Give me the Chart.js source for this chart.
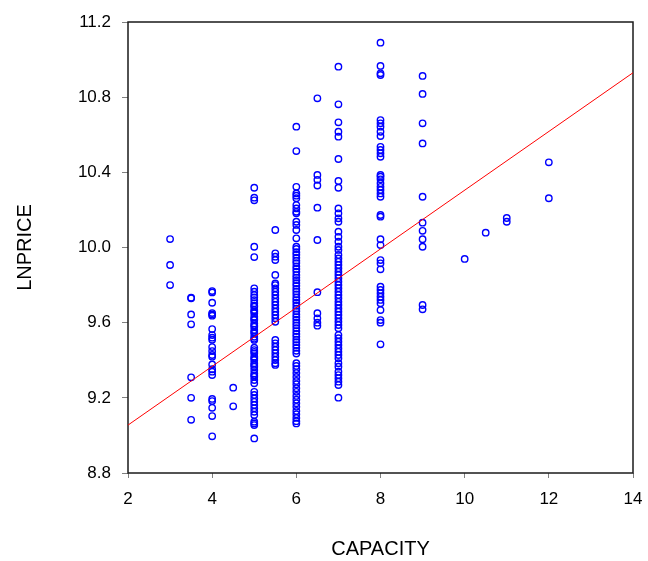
<!DOCTYPE html>
<html>
<head>
<meta charset="utf-8">
<script src="https://cdn.jsdelivr.net/npm/chart.js@4/dist/chart.umd.min.js"></script>
<style>
  html, body { margin: 0; padding: 0; background: #ffffff; }
  #wrap { width: 648px; height: 561px; }
</style>
</head>
<body>
<div id="wrap"><canvas id="c" width="648" height="561"></canvas></div>
<script>
// ---- Data (x = CAPACITY, y = LNPRICE) ----
const capacities = [3, 3.5, 4, 4.5, 5, 5.5, 6, 6.5, 7, 8, 9, 10, 10.5, 11, 12];

const lnprice_cap3   = [10.045, 9.907, 9.80];
const lnprice_cap3_5 = [9.733, 9.73, 9.644, 9.591, 9.309, 9.20, 9.083];
const lnprice_cap4   = [9.768, 9.761, 9.706, 9.651, 9.644, 9.637, 9.566, 9.534, 9.52, 9.509, 9.47, 9.449, 9.428, 9.419, 9.378, 9.352, 9.339, 9.321, 9.194, 9.183, 9.147, 9.103, 8.995];
const lnprice_cap4_5 = [9.254, 9.155];
const lnprice_cap5   = [10.318, 10.265, 10.251, 10.004, 9.949, 9.783, 9.765, 9.747, 9.735, 9.72, 9.703, 9.69, 9.685, 9.667, 9.66, 9.65, 9.632, 9.62, 9.614, 9.596, 9.585, 9.578, 9.561, 9.55, 9.543, 9.525, 9.515, 9.508, 9.467, 9.454, 9.445, 9.437, 9.419, 9.41, 9.401, 9.384, 9.375, 9.366, 9.348, 9.33, 9.32, 9.312, 9.295, 9.277, 9.232, 9.215, 9.197, 9.179, 9.162, 9.144, 9.126, 9.108, 9.073, 9.064, 9.055, 8.984];
const lnprice_cap5_5 = [10.093, 9.969, 9.951, 9.933, 9.854, 9.809, 9.80, 9.783, 9.765, 9.747, 9.729, 9.711, 9.694, 9.676, 9.658, 9.641, 9.623, 9.605, 9.508, 9.49, 9.472, 9.454, 9.437, 9.419, 9.401, 9.384, 9.375];
const lnprice_cap6   = [10.643, 10.513, 10.323, 10.288, 10.276, 10.262, 10.226, 10.208, 10.19, 10.182, 10.137, 10.12, 10.093, 10.049, 10.004, 9.992, 9.975, 9.962, 9.946, 9.93, 9.917, 9.90, 9.886, 9.871, 9.853, 9.84, 9.826, 9.81, 9.796, 9.78, 9.766, 9.751, 9.734, 9.72, 9.706, 9.69, 9.675, 9.661, 9.644, 9.63, 9.616, 9.60, 9.586, 9.571, 9.555, 9.54, 9.526, 9.51, 9.496, 9.481, 9.466, 9.45, 9.436, 9.384, 9.37, 9.352, 9.332, 9.311, 9.29, 9.272, 9.251, 9.232, 9.21, 9.19, 9.171, 9.152, 9.13, 9.112, 9.093, 9.076, 9.064];
const lnprice_cap6_5 = [10.794, 10.386, 10.36, 10.33, 10.212, 10.04, 9.762, 9.65, 9.623, 9.60, 9.584];
const lnprice_cap7   = [10.962, 10.762, 10.666, 10.616, 10.59, 10.471, 10.354, 10.318, 10.208, 10.182, 10.155, 10.137, 10.084, 10.057, 10.031, 10.004, 9.987, 9.96, 9.942, 9.924, 9.907, 9.889, 9.871, 9.854, 9.836, 9.818, 9.80, 9.783, 9.765, 9.747, 9.73, 9.711, 9.694, 9.676, 9.658, 9.641, 9.623, 9.605, 9.587, 9.57, 9.534, 9.517, 9.499, 9.481, 9.463, 9.445, 9.428, 9.41, 9.384, 9.366, 9.339, 9.321, 9.304, 9.286, 9.268, 9.201];
const lnprice_cap8   = [11.09, 10.966, 10.927, 10.918, 10.678, 10.661, 10.643, 10.616, 10.593, 10.536, 10.519, 10.501, 10.483, 10.386, 10.377, 10.363, 10.342, 10.323, 10.306, 10.288, 10.27, 10.173, 10.164, 10.044, 10.013, 9.933, 9.916, 9.884, 9.791, 9.774, 9.756, 9.738, 9.721, 9.703, 9.667, 9.614, 9.60, 9.485];
const lnprice_cap9   = [10.913, 10.817, 10.661, 10.554, 10.27, 10.132, 10.089, 10.044, 10.004, 9.694, 9.671];
const lnprice_cap10  = [9.939];
const lnprice_cap10_5 = [10.079];
const lnprice_cap11  = [10.157, 10.137];
const lnprice_cap12  = [10.453, 10.262];

const lnpriceByCapacity = [lnprice_cap3, lnprice_cap3_5, lnprice_cap4, lnprice_cap4_5, lnprice_cap5, lnprice_cap5_5, lnprice_cap6, lnprice_cap6_5, lnprice_cap7, lnprice_cap8, lnprice_cap9, lnprice_cap10, lnprice_cap10_5, lnprice_cap11, lnprice_cap12];

// Fitted regression line end points
const fitX = [2, 14];
const fitY = [9.055, 10.93];

const xTicks = [2, 4, 6, 8, 10, 12, 14];
const yTicks = [8.8, 9.2, 9.6, 10.0, 10.4, 10.8, 11.2];

// ---- Build datasets ----
const scatterPoints = [];
capacities.forEach((c, i) => {
  lnpriceByCapacity[i].forEach(v => scatterPoints.push({ x: c, y: v }));
});
const fitPoints = fitX.map((x, i) => ({ x: x, y: fitY[i] }));

const framePlugin = {
  id: 'frame',
  beforeDatasetsDraw(chart) {
    const a = chart.chartArea;
    const ctx = chart.ctx;
    ctx.save();
    ctx.strokeStyle = '#1a1a1a';
    ctx.lineWidth = 1.5;
    ctx.strokeRect(a.left, a.top, a.right - a.left, a.bottom - a.top);
    ctx.restore();
  }
};

const FONT = "'Liberation Sans', Arial, sans-serif";

new Chart(document.getElementById('c'), {
  type: 'scatter',
  data: {
    datasets: [
      {
        label: 'LNPRICE',
        data: scatterPoints,
        pointStyle: 'circle',
        pointRadius: 3.2,
        pointHoverRadius: 3.2,
        borderWidth: 1.4,
        borderColor: '#0000ff',
        backgroundColor: 'rgba(0,0,0,0)',
        order: 2
      },
      {
        type: 'line',
        label: 'Fit',
        data: fitPoints,
        borderColor: '#ff0000',
        borderWidth: 1,
        pointRadius: 0,
        fill: false,
        tension: 0,
        order: 1
      }
    ]
  },
  options: {
    responsive: false,
    animation: false,
    layout: { padding: { left: 0, right: 15, top: 22, bottom: 0 } },
    plugins: {
      legend: { display: false },
      tooltip: { enabled: false }
    },
    scales: {
      x: {
        type: 'linear',
        min: 2, max: 14,
        afterBuildTicks(scale) { scale.ticks = xTicks.map(v => ({ value: v })); },
        afterFit(scale) { scale.height = 88; scale.paddingLeft = 0; scale.paddingRight = 0; },
        grid: { drawOnChartArea: false, color: '#808080', tickLength: 5, tickWidth: 1 },
        border: { display: false },
        ticks: { color: '#000', padding: 11, font: { family: FONT, size: 17 }, callback: v => String(v) },
        title: { display: true, text: 'CAPACITY', color: '#000', font: { family: FONT, size: 20 }, padding: { top: 0, bottom: 0 } }
      },
      y: {
        type: 'linear',
        min: 8.8, max: 11.2,
        afterBuildTicks(scale) { scale.ticks = yTicks.map(v => ({ value: v })); },
        afterFit(scale) { scale.width = 128; scale.paddingTop = 0; scale.paddingBottom = 0; },
        grid: { drawOnChartArea: false, color: '#808080', tickLength: 6, tickWidth: 1 },
        border: { display: false },
        ticks: { color: '#000', padding: 11, font: { family: FONT, size: 17 }, callback: v => Number(v).toFixed(1) },
        title: { display: true, text: 'LNPRICE', color: '#000', font: { family: FONT, size: 20 }, padding: { top: 13, bottom: 0 } }
      }
    }
  },
  plugins: [framePlugin]
});
</script>
</body>
</html>
